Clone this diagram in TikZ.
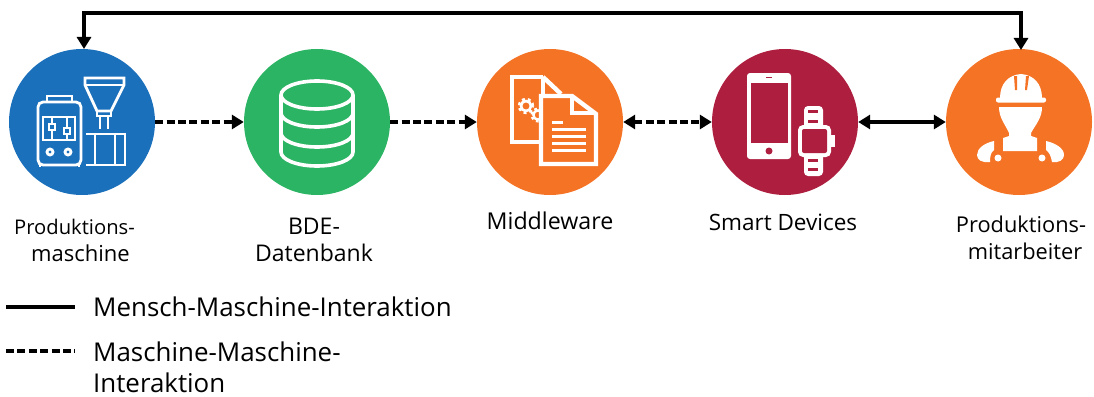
\documentclass[tikz,border=0pt]{standalone}
\usepackage{fontspec}
\setmainfont{Open Sans}
\usetikzlibrary{arrows.meta}
\definecolor{cblue}{HTML}{1B70BB}
\definecolor{cgreen}{HTML}{2BB463}
\definecolor{corange}{HTML}{F57325}
\definecolor{ccrimson}{HTML}{AD1E3F}
\tikzset{
  x=1pt,y=-1pt,
  hub/.style={circle,minimum size=146pt,inner sep=0pt,fill=#1},
  arr/.style={line width=3.2pt,-{Triangle[length=12pt,width=14pt]}},
  dblarr/.style={line width=3.2pt,{Triangle[length=12pt,width=14pt]}-{Triangle[length=12pt,width=14pt]}},
  dash6/.style={dash pattern=on 8pt off 3.4pt},
  lbl/.style={align=center,font=\fontsize{#1}{27}\selectfont,inner sep=0pt},
  lbl/.default=22.5,
  leg/.style={align=left,anchor=west,font=\fontsize{25.9}{31}\selectfont,inner sep=0pt},
  ico/.style={draw=white,line width=2.8pt,line join=miter},
}
\begin{document}
\begin{tikzpicture}
\useasboundingbox (0,0) rectangle (1094,396);
\node[hub=cblue] (m) at (82,122) {};
\node[hub=cgreen] (d) at (317,122) {};
\node[hub=corange] (w) at (550,122) {};
\node[hub=ccrimson] (s) at (785,122) {};
\node[hub=corange] (p) at (1019,122) {};

% connectors
\draw[arr,dash6] (m.east) -- (d.west);
\draw[arr,dash6] (d.east) -- (w.west);
\draw[dblarr,dash6] (w.east) -- (s.west);
\draw[dblarr] (s.east) -- (p.west);
\coordinate (tl) at (84,13);
\coordinate (tr) at (1021,13);
\coordinate (pt) at (1021,50);
\coordinate (mt) at (84,49);
\draw[dblarr,line join=miter] (mt) -- (tl) -- (tr) -- (pt);

% machine icon
\begin{scope}[ico]
\draw[rounded corners=5pt] (38,165) -- (38,102) -- (81,102) -- (81,165) -- cycle;
\draw (47,102) -- (47,96) -- (72,96) -- (72,102);
\draw (43,117) rectangle (75,140);
\draw (52,117) -- (52,140);
\draw (67,117) -- (67,140);
\draw[fill=cblue] (49,124) rectangle (55,130);
\draw[fill=cblue] (64,128) rectangle (70,134);
\draw (50,152) circle (3pt);
\draw (68,152) circle (3pt);
\draw (40,165) -- (40,167) (79,165) -- (79,167);
\draw (85,78) -- (124,78) -- (124,85) -- (111,111) -- (97,111) -- (85,85) -- cycle;
\draw (85,85) -- (124,85);
\draw (97,111) -- (97,116) -- (111,116) -- (111,111);
\draw (100,116) -- (100,129) (108,116) -- (108,129);
\draw (86,134) -- (125,134) -- (125,165) -- (86,165);
\draw (95,134) -- (95,165) (115,134) -- (115,165);
\end{scope}

% database icon
\begin{scope}[draw=white,line width=3.6pt]
\draw (317,95) ellipse[x radius=36,y radius=14];
\draw (281,95) -- (281,152) arc[start angle=180,end angle=0,x radius=36,y radius=14] -- (353,95);
\draw (281,113) arc[start angle=180,end angle=0,x radius=36,y radius=14];
\draw (281,133) arc[start angle=180,end angle=0,x radius=36,y radius=14];
\end{scope}

% documents icon
\begin{scope}[draw=white,line width=4.4pt,line join=miter]
\draw (543,77) -- (512,77) -- (512,142) -- (541,142);
\draw (543,77) -- (561,94);
\draw (543,77) -- (543,96);
\draw[line width=3.4pt,dash pattern=on 2.8pt off 2.8pt] (526,106) circle (6.5pt);
\draw[white,line width=2.6pt] (526,106) circle (5pt);
\draw[line width=3pt,dash pattern=on 2.6pt off 2.6pt] (538,115) circle (6pt);
\draw[white,line width=2.4pt] (538,115) circle (4.6pt);
\draw[fill=corange] (541,96) -- (572,96) -- (596,114) -- (596,164) -- (541,164) -- cycle;
\draw[line width=3.2pt] (572,96) -- (572,113) -- (596,113);
\end{scope}
\begin{scope}[draw=white,line width=3pt]
\draw (552,122) -- (563,122);
\draw (552,129) -- (586,129);
\draw (552,136) -- (586,136);
\draw (552,143) -- (586,143);
\draw (552,150) -- (586,150);
\end{scope}

% phone and watch icon
\fill[white,rounded corners=3pt] (747,73) rectangle (791,159);
\fill[ccrimson] (750.5,83) rectangle (787.5,143);
\fill[ccrimson] (766,76.5) rectangle (772,78);
\fill[ccrimson] (769,151) circle (3.5pt);
\fill[white,rounded corners=4pt] (804,106) rectangle (823,176);
\fill[white,rounded corners=5pt] (798,125) rectangle (831,157);
\fill[white] (830,135) rectangle (834.5,147);
\fill[ccrimson,rounded corners=2pt] (802,129) rectangle (827,153);
\fill[ccrimson] (808,110) rectangle (818,113);
\fill[ccrimson] (808,120) rectangle (818,123);
\fill[ccrimson] (808,159) rectangle (818,162);
\fill[ccrimson] (808,168) rectangle (818,171);

% worker icon
\fill[white,rounded corners=2pt] (996,97.5) rectangle (1046,102.5);
\fill[white] (1000,98) .. controls (1000,84) and (1008,75) .. (1021,74) .. controls (1034,75) and (1042,84) .. (1042,98) -- cycle;
\fill[corange] (1014,76) -- (1017,76) -- (1017,90) -- (1015,90) -- cycle;
\fill[corange] (1026,76) -- (1029,76) -- (1027,90) -- (1025,90) -- cycle;
\fill[white] (999,107) -- (1042,107) .. controls (1042,118) and (1036,124) .. (1031,133) -- (1031,136) -- (1037,138) -- (1037,151) -- (1003,151) -- (1003,138) -- (1009,136) -- (1009,133) .. controls (1005,124) and (999,118) .. (999,107) -- cycle;
\fill[white] (994,141) -- (994,150) .. controls (991,152) and (990,156) .. (990,162) .. controls (982,163) and (977,160) .. (977,155) .. controls (977,148) and (985,143) .. (994,141) -- cycle;
\fill[white] (1046,141) -- (1046,150) .. controls (1049,152) and (1051,156) .. (1052,162) .. controls (1059,163) and (1064,160) .. (1064,155) .. controls (1064,148) and (1055,143) .. (1046,141) -- cycle;
\fill[white] (998,158) circle (3.5pt);
\fill[white] (1042,158) circle (3.5pt);

% labels
\node[lbl=20.2] (lm) at (74.5,240.5) {Produktions-\\\hspace{12pt}{\fontsize{22}{27}\selectfont maschine}};
\node[lbl=23] (ld) at (314,240) {BDE-\\Datenbank};
\node[lbl=23.2] (lw) at (550,221) {Middleware};
\node[lbl=22.5] (ls) at (783,222) {Smart Devices};
\node[lbl=21.8] (lp) at (1021,238) {Produktions-\\\hspace{8pt}mitarbeiter};

% legend
\coordinate (a1) at (6,307);
\coordinate (a2) at (75,307);
\coordinate (b1) at (6,351);
\coordinate (b2) at (75,351);
\draw[line width=3.2pt] (a1) -- (a2);
\draw[line width=3.2pt,dash6] (b1) -- (b2);
\node[leg] (t1) at (93,307) {Mensch-Maschine-Interaktion};
\node[leg] (t2) at (93,367) {Maschine-Maschine-\\Interaktion};
\end{tikzpicture}
\end{document}
